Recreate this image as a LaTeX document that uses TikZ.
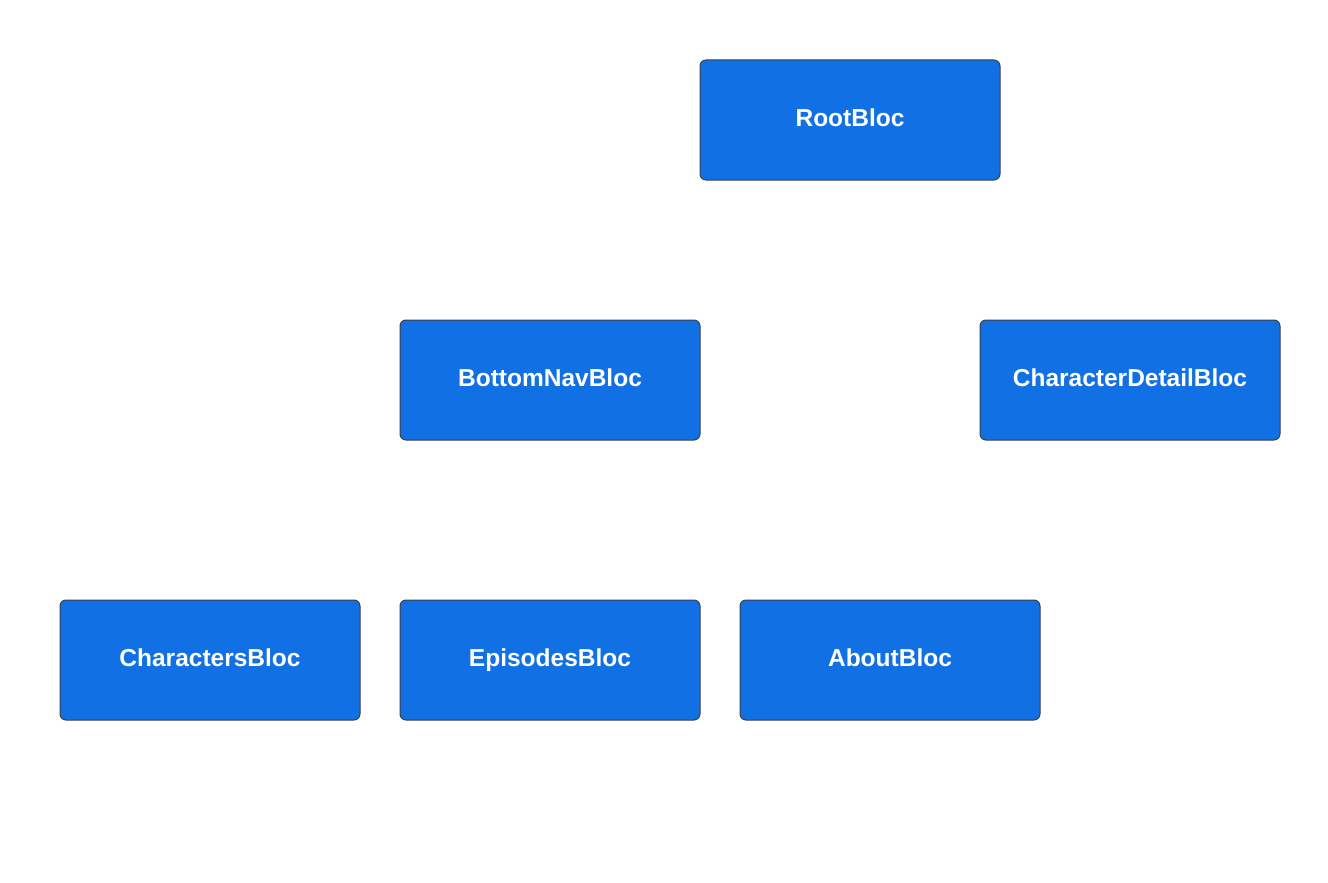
\documentclass[tikz,border=0pt]{standalone}
\usepackage{fontspec}
\setmainfont{Liberation Sans}
\definecolor{boxblue}{HTML}{1170E3}
\definecolor{boxline}{HTML}{3A3F4A}
\begin{document}
\begin{tikzpicture}[x=1pt,y=-1pt,
  bloc/.style={draw=boxline, line width=1pt, fill=boxblue, rounded corners=6pt,
    minimum width=300pt, minimum height=120pt, inner sep=0pt,
    text height=18pt, text depth=6pt,
    text=white, font=\fontsize{24.5}{28}\selectfont\bfseries}]
\useasboundingbox (0,0) rectangle (1328,883);
\node[bloc] (root) at (850,120) {RootBloc};
\node[bloc] (nav) at (550,380) {BottomNavBloc};
\node[bloc] (detail) at (1130,380) {CharacterDetailBloc};
\node[bloc] (chars) at (210,660) {CharactersBloc};
\node[bloc] (eps) at (550,660) {EpisodesBloc};
\node[bloc] (about) at (890,660) {AboutBloc};
\end{tikzpicture}
\end{document}
